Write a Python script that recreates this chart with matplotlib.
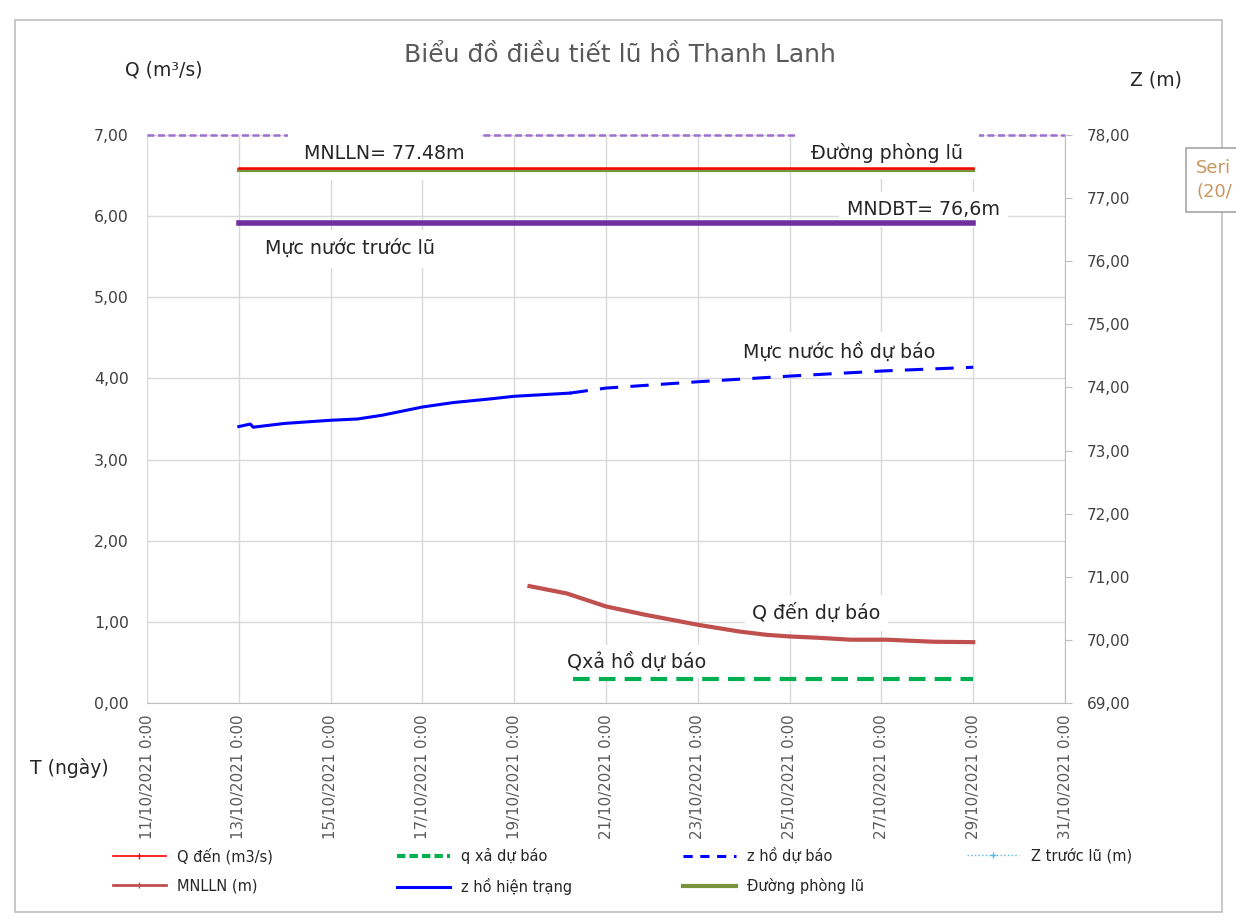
import matplotlib
matplotlib.use("Agg")
import matplotlib.pyplot as plt
from matplotlib.lines import Line2D
from matplotlib.patches import Rectangle
import pandas as pd

# ---- data ----
x_start = "2021-10-11"
x_end = "2021-10-31"
tick_dates = pd.date_range(x_start, x_end, freq="2D")

# Z lines (right axis, m)
level_dates = ["2021-10-13", "2021-10-29"]
mnlln_z = [77.48, 77.48]
phong_lu_z = [77.445, 77.445]
truoc_lu_z = [76.6, 76.6]

z_now_dates = ["2021-10-13 00:00", "2021-10-13 06:00", "2021-10-13 07:30", "2021-10-14 00:00",
               "2021-10-15 00:00", "2021-10-15 14:00", "2021-10-16 03:00", "2021-10-17 00:00",
               "2021-10-17 16:00", "2021-10-18 12:00", "2021-10-19 00:00", "2021-10-20 05:00"]
z_now = [73.38, 73.42, 73.37, 73.43, 73.48, 73.50, 73.56, 73.69, 73.76, 73.82, 73.86, 73.91]

z_fc_dates = ["2021-10-20 05:00", "2021-10-21 00:00", "2021-10-23 00:00", "2021-10-25 00:00",
              "2021-10-27 00:00", "2021-10-29 00:00"]
z_fc = [73.91, 73.99, 74.09, 74.18, 74.26, 74.32]

# Q lines (left axis, m3/s)
q_in_dates = ["2021-10-19 08:00", "2021-10-20 03:30", "2021-10-21 00:00", "2021-10-21 21:00",
              "2021-10-23 01:00", "2021-10-23 22:00", "2021-10-24 12:00", "2021-10-25 00:00",
              "2021-10-25 14:00", "2021-10-26 08:00", "2021-10-27 03:00", "2021-10-28 03:00",
              "2021-10-29 00:00"]
q_in = [1.44, 1.35, 1.19, 1.085, 0.96, 0.88, 0.84, 0.82, 0.805, 0.78, 0.78, 0.755, 0.75]

q_out_dates = ["2021-10-20 07:00", "2021-10-29 00:00"]
q_out = [0.30, 0.30]

top_q = 7.0

q_ticks = [0, 1, 2, 3, 4, 5, 6, 7]
z_ticks = [69, 70, 71, 72, 73, 74, 75, 76, 77, 78]


def fmt(v):
    return f"{v:.2f}".replace(".", ",")


font = "DejaVu Sans"
grey_txt = "#595959"

fig = plt.figure(figsize=(12.36, 9.17), dpi=100)
ax = fig.add_axes([147 / 1236, 1 - 703 / 917, (1065 - 147) / 1236, (703 - 135) / 917])
ax2 = ax.twinx()

t = lambda s: pd.to_datetime(s)

# grid and frame
ax.set_xlim(t(x_start), t(x_end))
ax.set_ylim(0, 7)
ax2.set_ylim(69, 78)
ax.set_xticks(tick_dates)
ax.set_xticklabels([d.strftime("%d/%m/%Y") + " 0:00" for d in tick_dates],
                   rotation=90, fontsize=10.8, color=grey_txt, family=font)
ax.set_yticks(q_ticks)
ax.set_yticklabels([fmt(v) for v in q_ticks], fontsize=11.3, color="#404040", family=font)
ax2.set_yticks(z_ticks)
ax2.set_yticklabels([fmt(v) for v in z_ticks], fontsize=11, color="#404040", family=font)
ax.grid(True, color="#D9D9D9", lw=1.0)
ax.set_axisbelow(True)
for a in (ax, ax2):
    for s in ("top", "left"):
        a.spines[s].set_visible(False)
ax2.spines["right"].set_color("#BFBFBF")
ax2.spines["bottom"].set_visible(False)
ax.spines["right"].set_visible(False)
ax.spines["bottom"].set_color("#BFBFBF")
ax.tick_params(axis="y", length=0, pad=13)
ax.tick_params(axis="x", length=0, pad=8)
ax2.tick_params(axis="y", length=5, color="#BFBFBF", pad=11)

# top dashed line and Q series
ax.axhline(top_q, color="#9B6FD0", lw=1.8, ls=(0, (2.8, 1.4)), zorder=1.5, clip_on=False)
ax.plot(t(q_in_dates), q_in, color="#C0504D", lw=3, zorder=3)
ax.plot(t(q_out_dates), q_out, color="#00B050", lw=3, ls=(0, (4, 2.2)), zorder=3)

# Z series
ax2.plot(t(level_dates), phong_lu_z, color="#77933C", lw=3, zorder=3)
ax2.plot(t(level_dates), mnlln_z, color="#FF0000", lw=1.8, zorder=3.1)
ax2.plot(t(level_dates), truoc_lu_z, color="#7030A0", lw=4, zorder=3)
ax2.plot(t(z_now_dates), z_now, color="#0000FF", lw=2.2, zorder=3)
ax2.plot(t(z_fc_dates), z_fc, color="#0000FF", lw=2.2, ls=(0, (6, 4)), zorder=3)

# annotations with white boxes
z_notes = [
    ("MNLLN= 77.48m", "2021-10-16 04:00", 77.70, "center", 0.85),
    ("Đường phòng lũ", "2021-10-27 03:00", 77.71, "center", 0.85),
    ("MNDBT= 76,6m", "2021-10-29 14:00", 76.82, "right", 0.4),
    ("Mực nước trước lũ", "2021-10-15 10:00", 76.20, "center", 0.5),
    ("Mực nước hồ dự báo", "2021-10-26 02:00", 74.57, "center", 0.5),
]
q_notes = [
    ("Q đến dự báo", "2021-10-25 14:00", 1.11, "center", 0.4),
    ("Qxả hồ dự báo", "2021-10-21 16:00", 0.51, "center", 0.35),
]
for a, notes in ((ax2, z_notes), (ax, q_notes)):
    for txt, d, v, ha, pad in notes:
        a.text(t(d), v, txt, ha=ha, va="center", fontsize=13.7, family=font, color="#262626",
               bbox=dict(boxstyle=f"square,pad={pad}", fc="white", ec="none"), zorder=2.5)

# title and axis captions
fig.text(620 / 1236, 1 - 55 / 917, "Biểu đồ điều tiết lũ hồ Thanh Lanh",
         ha="center", va="center", fontsize=18, family=font, color=grey_txt)
fig.text(125 / 1236, 1 - 70 / 917, "Q (m³/s)", ha="left", va="center",
         fontsize=13.5, family=font, color="#262626")
fig.text(1130 / 1236, 1 - 80 / 917, "Z (m)", ha="left", va="center",
         fontsize=13.5, family=font, color="#262626")
fig.text(30 / 1236, 1 - 768 / 917, "T (ngày)", ha="left", va="center",
         fontsize=13.5, family=font, color="#262626")

# legend, one block per column
legend_cols = [
    (113, [("Q đến (m3/s)", dict(color="#FF0000", lw=1.2, marker="|", ms=5)),
           ("MNLLN (m)", dict(color="#C0504D", lw=2, marker="|", ms=5))]),
    (397, [("q xả dự báo", dict(color="#00B050", lw=3, ls=(0, (2, 1)))),
           ("z hồ hiện trạng", dict(color="#0000FF", lw=2.2))]),
    (683, [("z hồ dự báo", dict(color="#0000FF", lw=2.2, ls=(0, (3, 2.5)))),
           ("Đường phòng lũ", dict(color="#77933C", lw=3))]),
    (967, [("Z trước lũ (m)", dict(color="#5BB8E8", lw=1, ls=":", marker="+", ms=5))]),
]
for x0, items in legend_cols:
    handles = [Line2D([], [], **kw) for _, kw in items]
    labels = [lab for lab, _ in items]
    fig.legend(handles, labels, loc="upper left", bbox_to_anchor=(x0 / 1236, 1 - 848 / 917),
               frameon=False, borderpad=0, borderaxespad=0, handlelength=3.6,
               handletextpad=0.8, labelspacing=0.95,
               prop={"family": font, "size": 10.5}, labelcolor="#262626")

# chart frame and tooltip fragment
fig.patches.append(Rectangle((15 / 1236, 1 - 912 / 917), (1222 - 15) / 1236, (912 - 20) / 917,
                             transform=fig.transFigure, fill=False, ec="#BFBFBF", lw=1.2))
fig.patches.append(Rectangle((1186 / 1236, 1 - 212 / 917), 80 / 1236, 64 / 917,
                             transform=fig.transFigure, fc="white", ec="#A6A6A6", lw=1.2))
fig.text(1196 / 1236, 1 - 180 / 917, "Seri\n(20/", ha="left", va="center", fontsize=13,
         family=font, color="#C8965F", linespacing=1.45)

fig.savefig("out.png", dpi=100)
